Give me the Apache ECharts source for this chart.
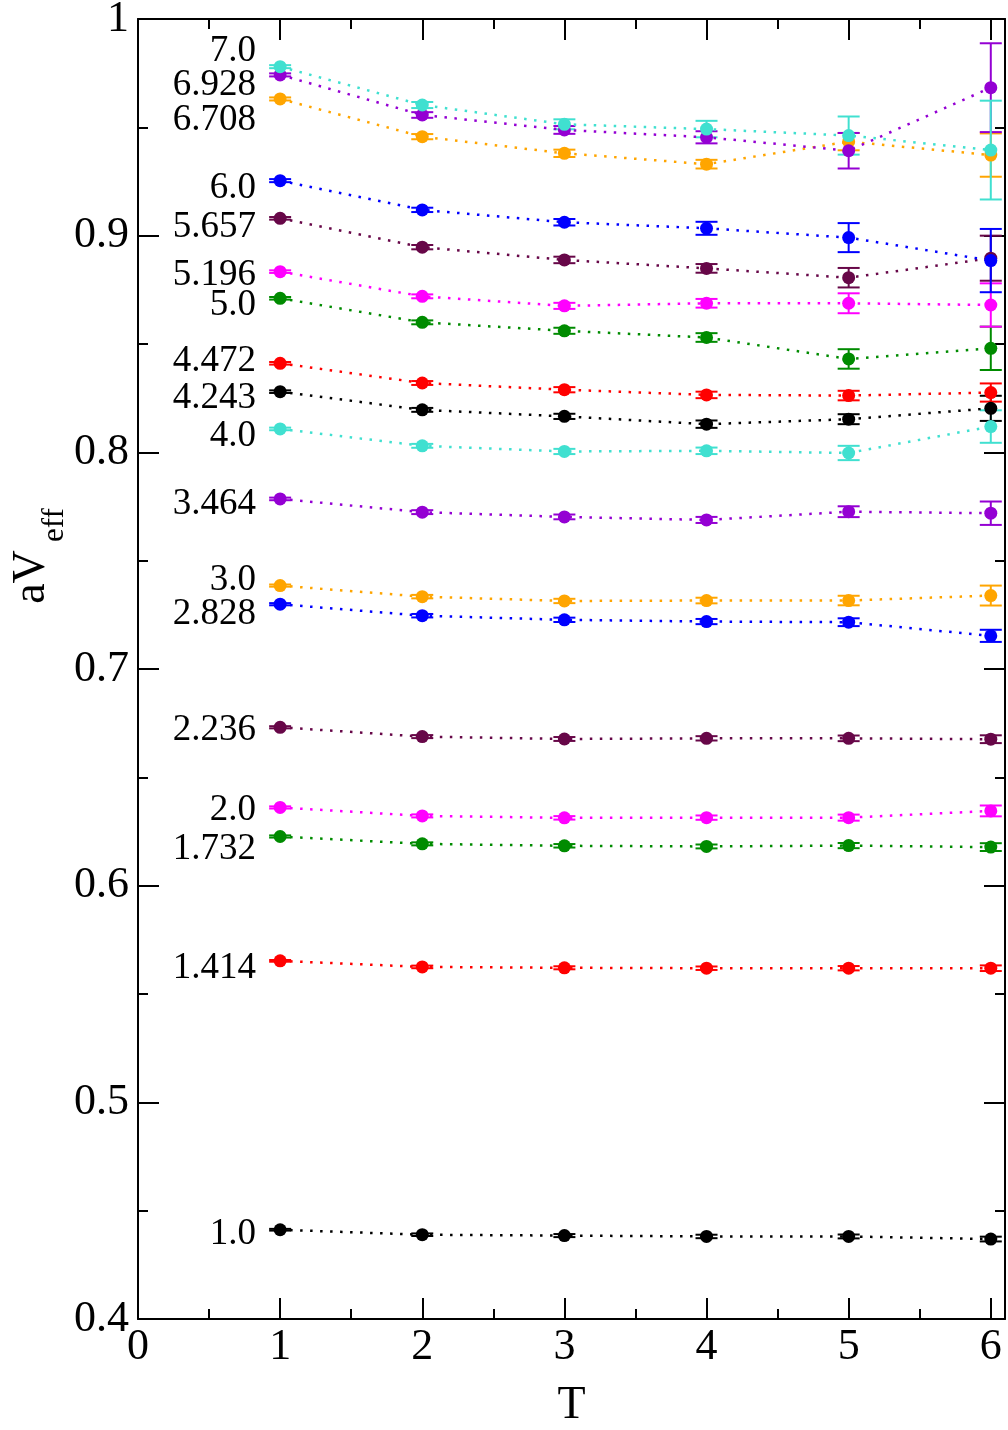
<!DOCTYPE html>
<html><head><meta charset="utf-8">
<script src="https://cdn.jsdelivr.net/npm/echarts@6/dist/echarts.min.js"></script>
<style>html,body{margin:0;padding:0;background:#fff}#c{width:1008px;height:1430px}</style>
</head><body><div id="c"></div>
<script>
// T values
const T = [1, 2, 3, 4, 5, 6];
// series labels (r values), bottom to top
const names = ['1.0','1.414','1.732','2.0','2.236','2.828','3.0','3.464','4.0','4.243','4.472','5.0','5.196','5.657','6.0','6.708','6.928','7.0'];
const colors = ['#000000','#ff0000','#008b00','#ff00ff','#670748','#0000ff','#ffa500','#9400d3','#40e0d0',
                '#000000','#ff0000','#008b00','#ff00ff','#670748','#0000ff','#ffa500','#9400d3','#40e0d0'];
// aV_eff values per series
const v1000 = [0.4412, 0.4389, 0.4385, 0.4381, 0.4381, 0.4369];
const v1414 = [0.5653, 0.5625, 0.5621, 0.5619, 0.5619, 0.5619];
const v1732 = [0.6227, 0.6193, 0.6184, 0.6181, 0.6185, 0.6178];
const v2000 = [0.6361, 0.6322, 0.6313, 0.6314, 0.6314, 0.6345];
const v2236 = [0.6731, 0.6688, 0.6677, 0.6680, 0.6680, 0.6676];
const v2828 = [0.7299, 0.7246, 0.7227, 0.7219, 0.7216, 0.7153];
const v3000 = [0.7385, 0.7334, 0.7314, 0.7316, 0.7316, 0.7339];
const v3464 = [0.7785, 0.7724, 0.7702, 0.7688, 0.7726, 0.7719];
const v4000 = [0.8108, 0.8030, 0.8004, 0.8007, 0.7997, 0.8119];
const v4243 = [0.8280, 0.8196, 0.8166, 0.8130, 0.8153, 0.8203];
const v4472 = [0.8411, 0.8320, 0.8289, 0.8265, 0.8262, 0.8276];
const v5000 = [0.8711, 0.8600, 0.8561, 0.8530, 0.8431, 0.8480];
const v5196 = [0.8834, 0.8720, 0.8676, 0.8688, 0.8688, 0.8680];
const v5657 = [0.9080, 0.8947, 0.8888, 0.8849, 0.8806, 0.8896];
const v6000 = [0.9254, 0.9119, 0.9062, 0.9034, 0.8991, 0.8885];
const v6708 = [0.9631, 0.9457, 0.9380, 0.9330, 0.9434, 0.9372];
const v6928 = [0.9742, 0.9557, 0.9488, 0.9454, 0.9392, 0.9683];
const v7000 = [0.9780, 0.9603, 0.9514, 0.9492, 0.9462, 0.9395];
// errors
const e1000 = [0.0004, 0.0006, 0.0007, 0.0008, 0.0009, 0.0011];
const e1414 = [0.0004, 0.0006, 0.0007, 0.0008, 0.0010, 0.0013];
const e1732 = [0.0005, 0.0007, 0.0008, 0.0009, 0.0012, 0.0018];
const e2000 = [0.0005, 0.0007, 0.0008, 0.0010, 0.0014, 0.0025];
const e2236 = [0.0005, 0.0007, 0.0009, 0.0010, 0.0013, 0.0018];
const e2828 = [0.0005, 0.0008, 0.0010, 0.0012, 0.0018, 0.0028];
const e3000 = [0.0005, 0.0008, 0.0010, 0.0013, 0.0022, 0.0046];
const e3464 = [0.0006, 0.0009, 0.0011, 0.0014, 0.0025, 0.0054];
const e4000 = [0.0006, 0.0009, 0.0012, 0.0015, 0.0033, 0.0075];
const e4243 = [0.0006, 0.0009, 0.0012, 0.0017, 0.0023, 0.0058];
const e4472 = [0.0006, 0.0009, 0.0012, 0.0015, 0.0022, 0.0042];
const e5000 = [0.0006, 0.0009, 0.0014, 0.0020, 0.0045, 0.0100];
const e5196 = [0.0006, 0.0009, 0.0014, 0.0020, 0.0046, 0.0100];
const e5657 = [0.0006, 0.0010, 0.0015, 0.0020, 0.0045, 0.0104];
const e6000 = [0.0007, 0.0010, 0.0015, 0.0030, 0.0067, 0.0146];
const e6708 = [0.0007, 0.0012, 0.0017, 0.0020, 0.0040, 0.0100];
const e6928 = [0.0007, 0.0013, 0.0018, 0.0028, 0.0082, 0.0205];
const e7000 = [0.0007, 0.0014, 0.0023, 0.0038, 0.0088, 0.0228];
// annotation anchors (y in data units), text placed left of T=1
const labelY = [0.4389, 0.5621, 0.6170, 0.6350, 0.6719, 0.7254, 0.7411, 0.7762, 0.8073, 0.8251, 0.8419, 0.8680, 0.8819, 0.9040, 0.9220, 0.9534, 0.9695, 0.9852];
const labelX = 0.83;
const xTicks = [0, 1, 2, 3, 4, 5, 6];
const yTicks = [0.4, 0.5, 0.6, 0.7, 0.8, 0.9, 1];

const vals = [v1000,v1414,v1732,v2000,v2236,v2828,v3000,v3464,v4000,v4243,v4472,v5000,v5196,v5657,v6000,v6708,v6928,v7000];
const errs = [e1000,e1414,e1732,e2000,e2236,e2828,e3000,e3464,e4000,e4243,e4472,e5000,e5196,e5657,e6000,e6708,e6928,e7000];

const FONT = 'Liberation Serif';
const series = [];
vals.forEach((v, i) => {
  const col = colors[i];
  series.push({
    type: 'custom', xAxisIndex: 0, yAxisIndex: 0, silent: true,
    data: T.map((t, k) => [t, v[k], errs[i][k]]),
    renderItem(params, api) {
      const x = api.value(0), y = api.value(1), e = api.value(2);
      const hi = api.coord([x, y + e]), lo = api.coord([x, y - e]);
      const w = 11;
      const st = { stroke: col, lineWidth: 2 };
      return { type: 'group', children: [
        { type: 'line', shape: { x1: hi[0], y1: hi[1], x2: lo[0], y2: lo[1] }, style: st },
        { type: 'line', shape: { x1: hi[0] - w, y1: hi[1], x2: hi[0] + w, y2: hi[1] }, style: st },
        { type: 'line', shape: { x1: lo[0] - w, y1: lo[1], x2: lo[0] + w, y2: lo[1] }, style: st }
      ]};
    }
  });
  series.push({
    type: 'line', name: names[i], xAxisIndex: 0, yAxisIndex: 0, silent: true,
    data: T.map((t, k) => [t, v[k]]),
    symbol: 'circle', symbolSize: 13, showAllSymbol: true,
    itemStyle: { color: col },
    lineStyle: { color: col, width: 2.5, type: [2.5, 7.5] },
    animation: false
  });
});
series.push({
  type: 'custom', xAxisIndex: 0, yAxisIndex: 0, silent: true,
  data: labelY.map((y, i) => [labelX, y, i]),
  renderItem(params, api) {
    const p = api.coord([api.value(0), api.value(1)]);
    return { type: 'text', x: p[0], y: p[1], style: {
      text: names[api.value(2)], font: '37px "' + FONT + '"', fill: '#000',
      align: 'right', verticalAlign: 'middle' } };
  }
});

const axisCommon = {
  axisLine: { show: true, onZero: false, lineStyle: { color: '#000', width: 2 } },
  axisTick: { show: true, inside: true, length: 21, lineStyle: { color: '#000', width: 2 } },
  minorTick: { show: true, splitNumber: 2, length: 10, lineStyle: { color: '#000', width: 2 } },
  splitLine: { show: false }, minorSplitLine: { show: false }
};

const chart = echarts.init(document.getElementById('c'), null, { renderer: 'canvas' });
chart.setOption({
  animation: false,
  backgroundColor: '#fff',
  grid: { left: 138, top: 19, right: 3, bottom: 111, containLabel: false, outerBoundsMode: 'none' },
  xAxis: [
    Object.assign({ type: 'value', min: 0, max: 6.1, interval: 1, position: 'bottom',
      axisLabel: { show: true, fontSize: 44, fontFamily: FONT, color: '#000', margin: 6,
        formatter: v => xTicks.includes(Math.round(v * 1000) / 1000) ? String(Math.round(v)) : '' },
      name: 'T', nameLocation: 'middle', nameGap: 64,
      nameTextStyle: { fontSize: 46, fontFamily: FONT, color: '#000' } }, axisCommon),
    Object.assign({ type: 'value', min: 0, max: 6.1, interval: 1, position: 'top',
      axisLabel: { show: false } }, axisCommon)
  ],
  yAxis: [
    Object.assign({ type: 'value', min: 0.4, max: 1, interval: 0.1, position: 'left',
      axisLabel: { show: true, fontSize: 44, fontFamily: FONT, color: '#000', margin: 9,
        formatter: v => { const r = Math.round(v * 10) / 10; return yTicks.includes(r) ? (r === 1 ? '1' : r.toFixed(1)) : ''; } } }, axisCommon),
    Object.assign({ type: 'value', min: 0.4, max: 1, interval: 0.1, position: 'right',
      axisLabel: { show: false } }, axisCommon)
  ],
  graphic: [
    { type: 'text', x: 32, y: 577, rotation: Math.PI / 2,
      style: { text: 'aV', font: '46px "' + FONT + '"', fill: '#000', align: 'center', verticalAlign: 'middle' } },
    { type: 'text', x: 55, y: 525, rotation: Math.PI / 2,
      style: { text: 'eff', font: '31px "' + FONT + '"', fill: '#000', align: 'center', verticalAlign: 'middle' } }
  ],
  series: series
});
</script></body></html>
